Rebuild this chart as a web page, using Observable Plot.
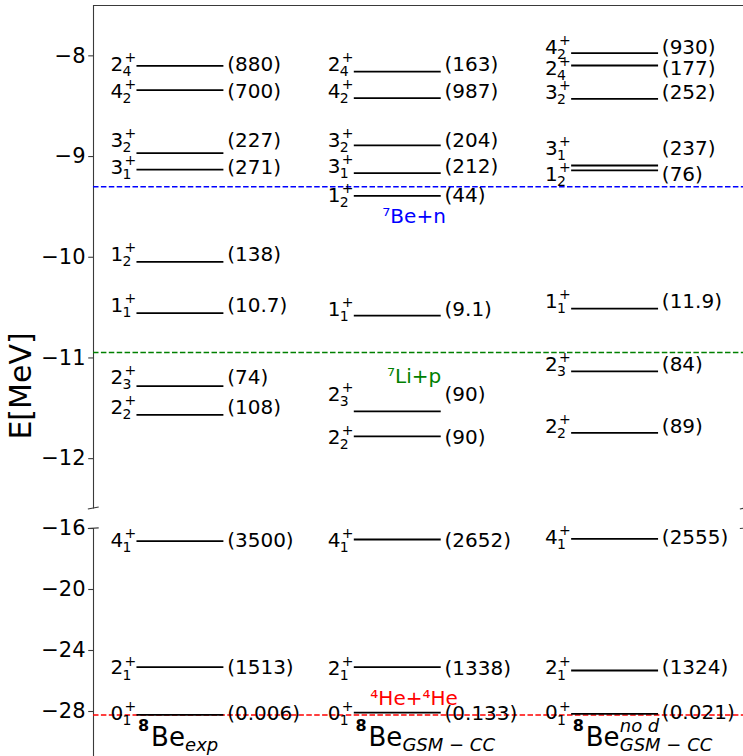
<!DOCTYPE html>
<html><head><meta charset="utf-8">
<script src="https://cdn.jsdelivr.net/npm/d3@7"></script>
<script src="https://cdn.jsdelivr.net/npm/@observablehq/plot@0.6"></script>
<style>
html,body{margin:0;padding:0;background:#fff;overflow:hidden;}
#chart svg{overflow:hidden;display:block;}
</style></head><body><div id="chart"></div>
<script>
// ---- data ----
const columnX = [1, 2, 3];
const titleSub = ["exp", "GSM − CC", "GSM − CC"];
const titleSup = ["", "", "no d"];

// experiment
const expJ = ["2","4","3","3","1","1","2","2","4","2","0"];
const expN = ["4","2","2","1","2","1","3","2","1","1","1"];
const expE = [-8.10,-8.34,-8.966,-9.13,-10.045,-10.554,-11.28,-11.566,-16.83,-25.09,-28.22];
const expLabelE = [-8.089,-8.357,-8.844,-9.107,-9.970,-10.476,-11.191,-11.489,-16.82,-25.15,-28.13];
const expWidth = ["880","700","227","271","138","10.7","74","108","3500","1513","0.006"];

// GSM-CC
const gsmJ = ["2","4","3","3","1","1","2","2","4","2","0"];
const gsmN = ["4","2","2","1","2","1","3","2","1","1","1"];
const gsmE = [-8.156,-8.42,-8.89,-9.164,-9.39,-10.58,-11.53,-11.779,-16.72,-25.09,-28.08];
const gsmLabelE = [-8.089,-8.352,-8.844,-9.097,-9.39,-10.52,-11.36,-11.787,-16.79,-25.18,-28.16];
const gsmWidth = ["163","987","204","212","44","9.1","90","90","2652","1338","0.133"];

// GSM-CC, no d
const nodJ = ["4","2","3","3","1","1","2","2","4","2","0"];
const nodN = ["2","4","2","1","2","1","3","2","1","1","1"];
const nodE = [-7.973,-8.096,-8.427,-9.089,-9.138,-10.511,-11.133,-11.745,-16.68,-25.31,-28.15];
const nodLabelE = [-7.916,-8.124,-8.362,-8.923,-9.176,-10.437,-11.067,-11.677,-16.62,-25.15,-28.10];
const nodWidth = ["930","177","252","237","76","11.9","84","89","2555","1324","0.021"];

// thresholds
const thrName = ["⁷Be+n", "⁷Li+p", "⁴He+⁴He"];
const thrE = [-9.30, -10.945, -28.23];
const thrLabelE = [-9.60, -11.186, -27.18];
const thrColor = ["#0000ff", "#008000", "#ff0000"];

const yTicks = [-8, -9, -10, -11, -12, -16, -20, -24, -28];

// ---- build tables ----
const cols = [
  {J: expJ, N: expN, E: expE, L: expLabelE, W: expWidth},
  {J: gsmJ, N: gsmN, E: gsmE, L: gsmLabelE, W: gsmWidth},
  {J: nodJ, N: nodN, E: nodE, L: nodLabelE, W: nodWidth}
];
const levels = cols.flatMap((c, ci) => c.E.map((e, i) => ({
  col: columnX[ci], J: c.J[i], n: c.N[i], E: e, L: c.L[i], w: c.W[i]
})));
const thresholds = thrName.map((t, i) => ({name: t, E: thrE[i], L: thrLabelE[i], color: thrColor[i]}));
const titles = columnX.map((x, i) => ({col: x, sub: titleSub[i], sup: titleSup[i]}));

const X0 = 0.6, X1 = 3.6, Ytop = -7.5, YbreakU = -12.5, YbreakL = -16, Ybot = -31;
const titleE = -29.72;
const spineColor = "#3a3a3a";

const chart = Plot.plot({
  width: 743, height: 756,
  marginLeft: 93, marginTop: 5, marginRight: 0, marginBottom: 0,
  x: {type: "linear", domain: [X0, X1], range: [93, 745], axis: null},
  y: {type: "linear", domain: [Ytop, YbreakU, YbreakL, Ybot], range: [5, 508.5, 528, 756.75], axis: null},
  color: {type: "identity"},
  style: {fontFamily: "DejaVu Sans", background: "white", color: "black"},
  marks: [
    // frame pieces
    Plot.ruleY([Ytop], {x1: X0, x2: X1, stroke: spineColor, strokeWidth: 1.1}),
    Plot.ruleX([X0], {y1: Ytop, y2: YbreakU, stroke: spineColor, strokeWidth: 1.1}),
    Plot.ruleX([X0], {y1: YbreakL, y2: Ybot, stroke: spineColor, strokeWidth: 1.1}),
    // break marks
    Plot.link([X0, X1], {x1: d => d - 0.026, x2: d => d + 0.024, y1: YbreakU, y2: YbreakU + 0.02, stroke: spineColor, strokeWidth: 1.1}),
    Plot.link([X0, X1], {x1: d => d - 0.026, x2: d => d + 0.024, y1: YbreakL, y2: YbreakL + 0.12, stroke: spineColor, strokeWidth: 1.1}),
    // y ticks
    Plot.ruleY(yTicks, {y: d => d, x1: X0 - 0.022, x2: X0, stroke: spineColor, strokeWidth: 1.1}),
    Plot.text(yTicks, {x: X0, y: d => d, text: d => "−" + Math.abs(d), dx: -8, textAnchor: "end", fontSize: 21}),
    Plot.text(["E[MeV]"], {frameAnchor: "left", text: d => d, textAnchor: "middle", dx: -72, dy: 5, rotate: -90, fontSize: 30}),
    // thresholds
    Plot.ruleY(thresholds, {y: "E", x1: X0, x2: X1, stroke: "color", strokeWidth: 1.5, strokeDasharray: "5.5,2.4"}),
    Plot.text(thresholds, {x: 2.075, y: "L", text: "name", fill: "color", fontSize: 20}),
    // levels
    Plot.ruleY(levels, {y: "E", x1: d => d.col - 0.2, x2: d => d.col + 0.2, stroke: "black", strokeWidth: 1.8}),
    Plot.text(levels, {x: d => d.col - 0.322, y: "L", text: "J", textAnchor: "start", fontSize: 20}),
    Plot.text(levels, {x: d => d.col - 0.322, y: "L", text: () => "+", dx: 14, dy: -7, textAnchor: "start", fontSize: 14}),
    Plot.text(levels, {x: d => d.col - 0.322, y: "L", text: "n", dx: 12, dy: 7, textAnchor: "start", fontSize: 14}),
    Plot.text(levels, {x: d => d.col + 0.215, y: "L", text: d => `(${d.w})`, textAnchor: "start", fontSize: 20}),
    // column titles
    Plot.text(titles, {x: d => d.col - 0.195, y: titleE, text: () => "8", dy: -12, textAnchor: "start", fontSize: 16, fontWeight: "bold"}),
    Plot.text(titles, {x: d => d.col - 0.195, y: titleE, text: () => "Be", dx: 13, textAnchor: "start", fontSize: 26}),
    Plot.text(titles, {x: d => d.col - 0.195, y: titleE, text: "sub", dx: 47, dy: 8, textAnchor: "start", fontSize: 18, fontStyle: "italic"}),
    Plot.text(titles, {x: d => d.col - 0.195, y: titleE, text: "sup", dx: 47, dy: -11, textAnchor: "start", fontSize: 18, fontStyle: "italic"})
  ]
});
document.getElementById("chart").appendChild(chart);
</script>
</body></html>
